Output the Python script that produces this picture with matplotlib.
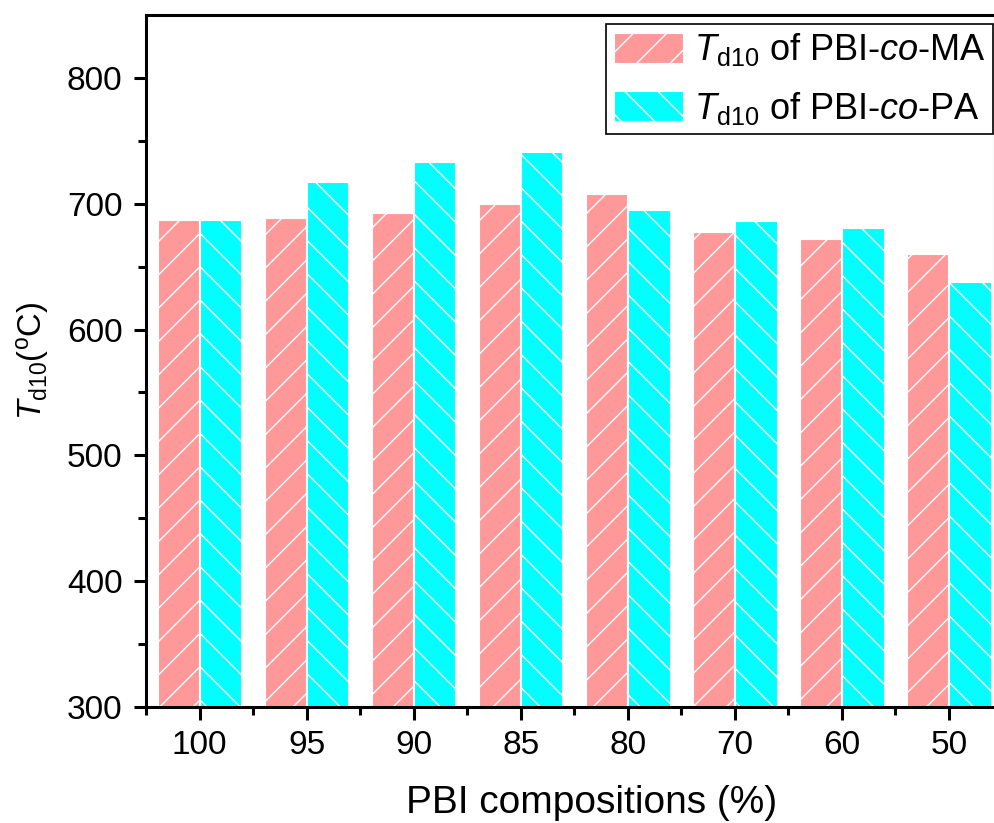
import matplotlib
matplotlib.use("Agg")
import matplotlib.pyplot as plt
import numpy as np

categories = ["100", "95", "90", "85", "80", "70", "60", "50"]
td10_ma = [687, 689, 693, 700, 708, 678, 672, 660]
td10_pa = [687, 717, 733, 741, 695, 686, 681, 638]

plt.rcParams['font.family'] = ['Liberation Sans', 'DejaVu Sans']
plt.rcParams['mathtext.fontset'] = 'custom'
plt.rcParams['mathtext.rm'] = 'Liberation Sans'
plt.rcParams['mathtext.it'] = 'Liberation Sans:italic'
plt.rcParams['mathtext.bf'] = 'Liberation Sans:bold'
plt.rcParams['hatch.color'] = 'white'
plt.rcParams['hatch.linewidth'] = 1.0

fig = plt.figure(figsize=(9.95, 8.23), dpi=100)
ax = fig.add_axes([146/995, 1-706.7/823, 1-146/995, (706.7-15.3)/823])

x = np.arange(len(categories))
w = 0.385
ax.bar(x - w/2 - 0.005, td10_ma, width=w, color='#FF9999', edgecolor='white',
       linewidth=0.8, hatch='/', label=r'$\mathit{T}_{\mathrm{d10}}$ of PBI-$\mathit{co}$-MA')
ax.bar(x + w/2 + 0.005, td10_pa, width=w, color='#00FFFF', edgecolor='white',
       linewidth=0.8, hatch='\\', label=r'$\mathit{T}_{\mathrm{d10}}$ of PBI-$\mathit{co}$-PA')

ax.set_xlim(-0.5, 7.43)
ax.set_ylim(300, 850)
ax.set_xticks(x)
ax.set_xticklabels(categories)
ax.set_xticks(np.arange(-0.5, 7.5, 1.0), minor=True)
ax.set_yticks([300, 400, 500, 600, 700, 800])
ax.set_yticks(np.arange(350, 850, 100), minor=True)

for s in ax.spines.values():
    s.set_linewidth(2.2)
ax.tick_params(axis='both', which='major', direction='out', length=9, width=2.2,
               labelsize=24, pad=8)
ax.tick_params(axis='both', which='minor', direction='out', length=5.5, width=2.2)

ax.set_xlabel('PBI compositions (%)', fontsize=28)
ax.xaxis.set_label_coords((592 - 146) / 849, -(813 - 706.7) / 691.4, transform=ax.transAxes)
ax.xaxis.label.set_va('baseline')
ax.set_ylabel(r'$\mathit{T}_{\mathrm{d10}}$($^{\mathrm{o}}$C)', fontsize=23.5, labelpad=11)

leg = ax.legend(loc='upper right', bbox_to_anchor=(993/995, 1-24/823),
                bbox_transform=fig.transFigure, borderaxespad=0, fontsize=26,
                frameon=True, fancybox=False, edgecolor='black', framealpha=1,
                handlelength=1.92, handleheight=0.9, labelspacing=0.6,
                handletextpad=0.3, borderpad=0.2)
leg.get_frame().set_linewidth(1.2)

fig.savefig('out.png', dpi=100)
